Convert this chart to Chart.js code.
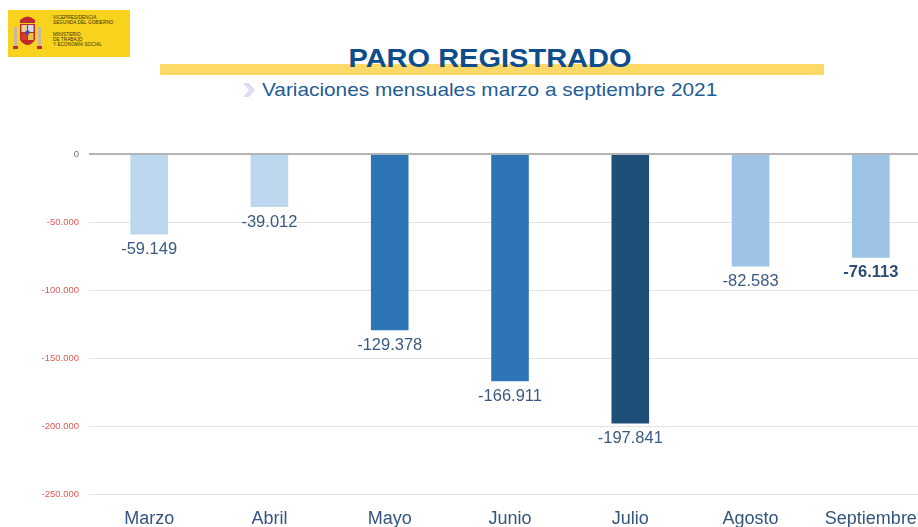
<!DOCTYPE html>
<html>
<head>
<meta charset="utf-8">
<script src="https://cdn.jsdelivr.net/npm/chart.js@4/dist/chart.umd.min.js"></script>
<style>
  html, body { margin:0; padding:0; width:918px; height:527px; overflow:hidden; background:#fff; font-family:"Liberation Sans", Arial, sans-serif; }
  body { position:relative; }
  #logo { position:absolute; left:8px; top:10px; width:122px; height:47px; background:#F7D31E; }
  #logo .t { position:absolute; left:45px; font-size:4.6px; line-height:5px; color:#3a2a10; white-space:nowrap; letter-spacing:0.1px; }
  #band { position:absolute; left:160px; top:64px; width:664px; height:11px; background:#FDD967; }
  #title { position:absolute; left:490px; top:45.5px; font-size:25px; line-height:25px; font-weight:bold; color:#0E4D8C; white-space:nowrap; transform:translateX(-50%) scaleX(1.16); }
  #sub { position:absolute; left:262px; top:79.6px; font-size:19px; line-height:19px; color:#1F5C98; white-space:nowrap; transform-origin:left center; transform:scaleX(1.095); }
  #chev { position:absolute; left:241px; top:82px; }
  canvas { position:absolute; left:0; top:17px; }
</style>
</head>
<body>
<div id="logo">
  <svg width="40" height="47" style="position:absolute;left:0;top:0">
    <rect x="6" y="17" width="3" height="20" fill="#c9b8a0"/>
    <rect x="30" y="17" width="3" height="20" fill="#c9b8a0"/>
    <path d="M12 10 Q19.5 3 27 10 L27 13 L12 13 Z" fill="#c0282d"/>
    <path d="M12 14 L27 14 L27 30 Q19.5 40 12 30 Z" fill="#c0282d"/>
    <rect x="13.5" y="15" width="5.5" height="7" fill="#e8d3a0"/>
    <rect x="20" y="15" width="5.5" height="7" fill="#d8d8e8"/>
    <rect x="13.5" y="23" width="5.5" height="7" fill="#d23a2e"/>
    <rect x="20" y="23" width="5.5" height="7" fill="#e8c04a"/>
    <circle cx="19.5" cy="22.5" r="2.2" fill="#4a4aa0"/>
    <rect x="5" y="36" width="5" height="3" fill="#c0282d"/>
    <rect x="29" y="36" width="5" height="3" fill="#c0282d"/>
  </svg>
  <div class="t" style="top:5px">VICEPRESIDENCIA</div>
  <div class="t" style="top:10px">SEGUNDA DEL GOBIERNO</div>
  <div class="t" style="top:22px">MINISTERIO</div>
  <div class="t" style="top:27px">DE TRABAJO</div>
  <div class="t" style="top:32px">Y ECONOMÍA SOCIAL</div>
</div>
<div id="band"></div>
<div id="title">PARO REGISTRADO</div>
<svg id="chev" width="16" height="16"><path d="M2 1 L8 1 L14 8 L8 15 L2 15 L8 8 Z" fill="#DCDFF0"/></svg>
<div id="sub">Variaciones mensuales marzo a septiembre 2021</div>
<canvas id="c" width="931" height="527"></canvas>
<script>
const categories = ['Marzo', 'Abril', 'Mayo', 'Junio', 'Julio', 'Agosto', 'Septiembre'];
const variations = [-59149, -39012, -129378, -166911, -197841, -82583, -76113];
const yTickMin = -250000;
const yTickMax = 0;
const yTickStep = 50000;

function fmtEs(v) {
  const neg = v < 0;
  let s = String(Math.abs(Math.round(v)));
  s = s.replace(/\B(?=(\d{3})+(?!\d))/g, '.');
  return (neg ? '-' : '') + s;
}

const valueLabels = {
  id: 'valueLabels',
  afterDatasetsDraw(chart) {
    const ctx = chart.ctx;
    const meta = chart.getDatasetMeta(0);
    ctx.save();
    ctx.textAlign = 'center';
    ctx.textBaseline = 'middle';
    meta.data.forEach((bar, i) => {
      const last = i === meta.data.length - 1;
      ctx.font = (last ? 'bold ' : '') + '16.5px "Liberation Sans", Arial, sans-serif';
      ctx.fillStyle = last ? '#2C4C74' : '#3A5A80';
      ctx.fillText(fmtEs(variations[i]), bar.x, bar.y + 15);
    });
    ctx.restore();
  }
};

new Chart(document.getElementById('c'), {
  type: 'bar',
  data: {
    labels: categories,
    datasets: [{
      data: variations,
      backgroundColor: ['#BDD7EE', '#BDD7EE', '#2E75B6', '#2E75B6', '#1F4E79', '#9DC3E6', '#9DC3E6'],
      borderWidth: 0,
      barPercentage: 1,
      categoryPercentage: 0.3127
    }]
  },
  options: {
    responsive: false,
    animation: false,
    devicePixelRatio: 1,
    layout: { padding: { top: 137, bottom: 0, left: 0, right: 0 } },
    plugins: { legend: { display: false }, tooltip: { enabled: false }, title: { display: false } },
    scales: {
      x: {
        grid: { display: false, drawTicks: false },
        border: { display: false },
        ticks: { color: '#34557E', padding: 14, font: { size: 18, family: '"Liberation Sans", Arial, sans-serif' }, maxRotation: 0, autoSkip: false }
      },
      y: {
        min: yTickMin,
        max: yTickMax,
        afterFit(scale) { scale.width = 89; },
        border: { display: false },
        grid: {
          drawTicks: false,
          color: (c) => (c.tick && c.tick.value === 0) ? '#B4B4B4' : '#E4E4E4',
          lineWidth: (c) => (c.tick && c.tick.value === 0) ? 2 : 1
        },
        ticks: {
          stepSize: yTickStep,
          padding: 10,
          color: (c) => (c.tick && c.tick.value === 0) ? '#6E6E6E' : '#E05A5A',
          font: { size: 9.5, family: '"Liberation Sans", Arial, sans-serif' },
          callback: (v) => fmtEs(v)
        }
      }
    }
  },
  plugins: [valueLabels]
});
</script>
</body>
</html>
